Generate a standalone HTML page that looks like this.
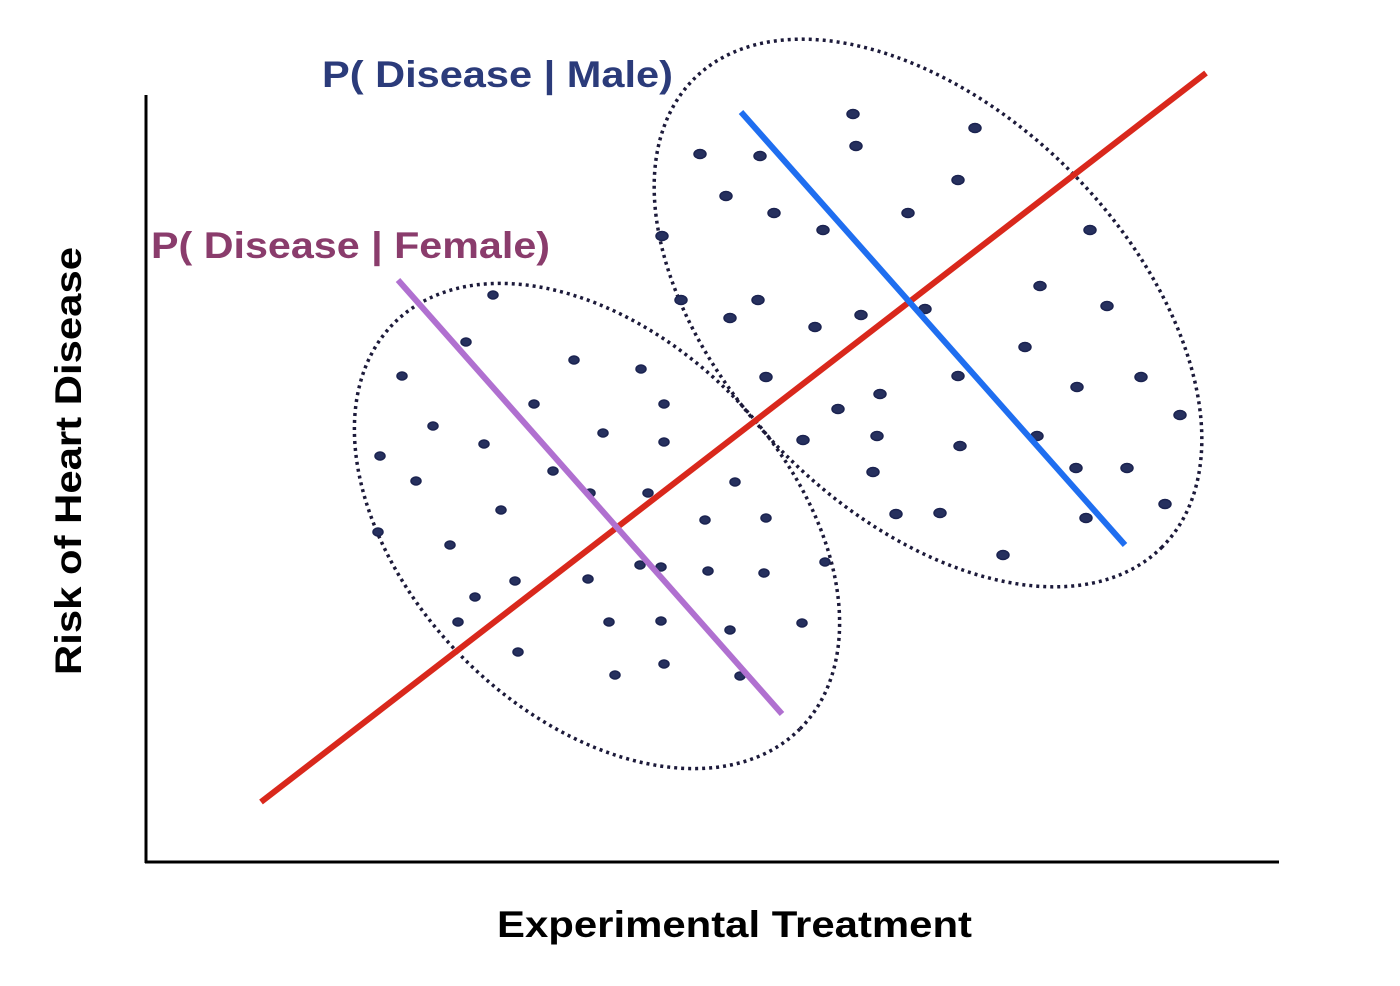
<!DOCTYPE html>
<html><head><meta charset="utf-8"><style>
html,body{margin:0;padding:0;background:#fff}
svg{display:block}
text{font-family:"Liberation Sans",Arial,sans-serif;font-weight:bold}
</style></head><body>
<svg id="chart" width="1400" height="986" viewBox="0 0 1400 986">
<g id="marks"></g>
<line x1="146" y1="95" x2="146" y2="863" stroke="#000" stroke-width="3"/>
<line x1="145" y1="862" x2="1279" y2="862" stroke="#000" stroke-width="3"/>
<text x="497" y="937" font-size="37" textLength="475" lengthAdjust="spacingAndGlyphs" fill="#000">Experimental Treatment</text>
<text transform="translate(81,675) rotate(-90)" font-size="37" textLength="428" lengthAdjust="spacingAndGlyphs" fill="#000">Risk of Heart Disease</text>
<text x="322" y="87" font-size="37" textLength="351" lengthAdjust="spacingAndGlyphs" fill="#2b3b7a">P( Disease | Male)</text>
<text x="151" y="258" font-size="37" textLength="399" lengthAdjust="spacingAndGlyphs" fill="#8a3c6c">P( Disease | Female)</text>
</svg>
<script>
// data space: x 0..1132, y 0..767
const femaleX=[256,320,347,428,495,518,388,287,338,234,270,407,457,518,444,502,355,589,232,304,559,620,369,442,494,515,562,618,679,329,312,463,515,584,656,372,518,469,594];
const femaleY=[486,520,567,502,493,458,458,436,418,406,381,391,429,420,369,369,352,380,330,317,342,344,281,283,297,295,291,289,300,265,240,240,241,232,239,210,198,187,186];
const maleX=[707,829,554,614,710,812,580,628,762,677,516,944,535,584,612,669,715,779,894,961,620,812,879,931,995,734,692,1034,657,731,814,891,727,930,981,750,794,940,1019,857];
const maleY=[748,734,708,706,716,682,666,649,649,632,626,632,562,544,562,535,547,553,576,556,485,486,515,475,485,468,453,447,422,426,416,426,390,394,394,348,349,344,358,307];
const overallLine=[[115,60],[1060,789]];
const femaleLine=[[252,582],[636,148]];
const maleLine=[[595,750],[979,317]];
const femaleEllipse={cx:451,cy:336,a:287,b:188,angle:45};
const maleEllipse={cx:782,cy:549,a:331,b:201,angle:45};

const X=v=>146+v, Y=v=>862-v;
const NS='http://www.w3.org/2000/svg';
const g=document.getElementById('marks');
function mk(t,attrs){const e=document.createElementNS(NS,t);for(const k in attrs)e.setAttribute(k,attrs[k]);g.appendChild(e);return e;}

[[femaleEllipse,'female-cluster-ellipse'],[maleEllipse,'male-cluster-ellipse']].forEach(([E,n])=>{
  const e=mk('ellipse',{cx:X(E.cx),cy:Y(E.cy),rx:E.a,ry:E.b,transform:`rotate(${E.angle} ${X(E.cx)} ${Y(E.cy)})`,fill:'none',stroke:'#1c1a3a','stroke-width':3.5,'stroke-dasharray':'3 4'});
  
  
});
femaleX.forEach((v,i)=>{
  const e=mk('ellipse',{cx:X(v),cy:Y(femaleY[i]),rx:5,ry:4,fill:'#26305e',stroke:'#1b2350','stroke-width':1.5});
  
  
});
maleX.forEach((v,i)=>{
  const e=mk('ellipse',{cx:X(v),cy:Y(maleY[i]),rx:6,ry:4.5,fill:'#26305e',stroke:'#1b2350','stroke-width':1.5});
  
  
});
[[overallLine,'#d9281c','overall-trend-line'],[femaleLine,'#b070d0','female-trend-line'],[maleLine,'#1f6ef0','male-trend-line']].forEach(([L,c,n])=>{
  const e=mk('line',{x1:X(L[0][0]),y1:Y(L[0][1]),x2:X(L[1][0]),y2:Y(L[1][1]),stroke:c,'stroke-width':6});
  
  
});
</script>
</body></html>
